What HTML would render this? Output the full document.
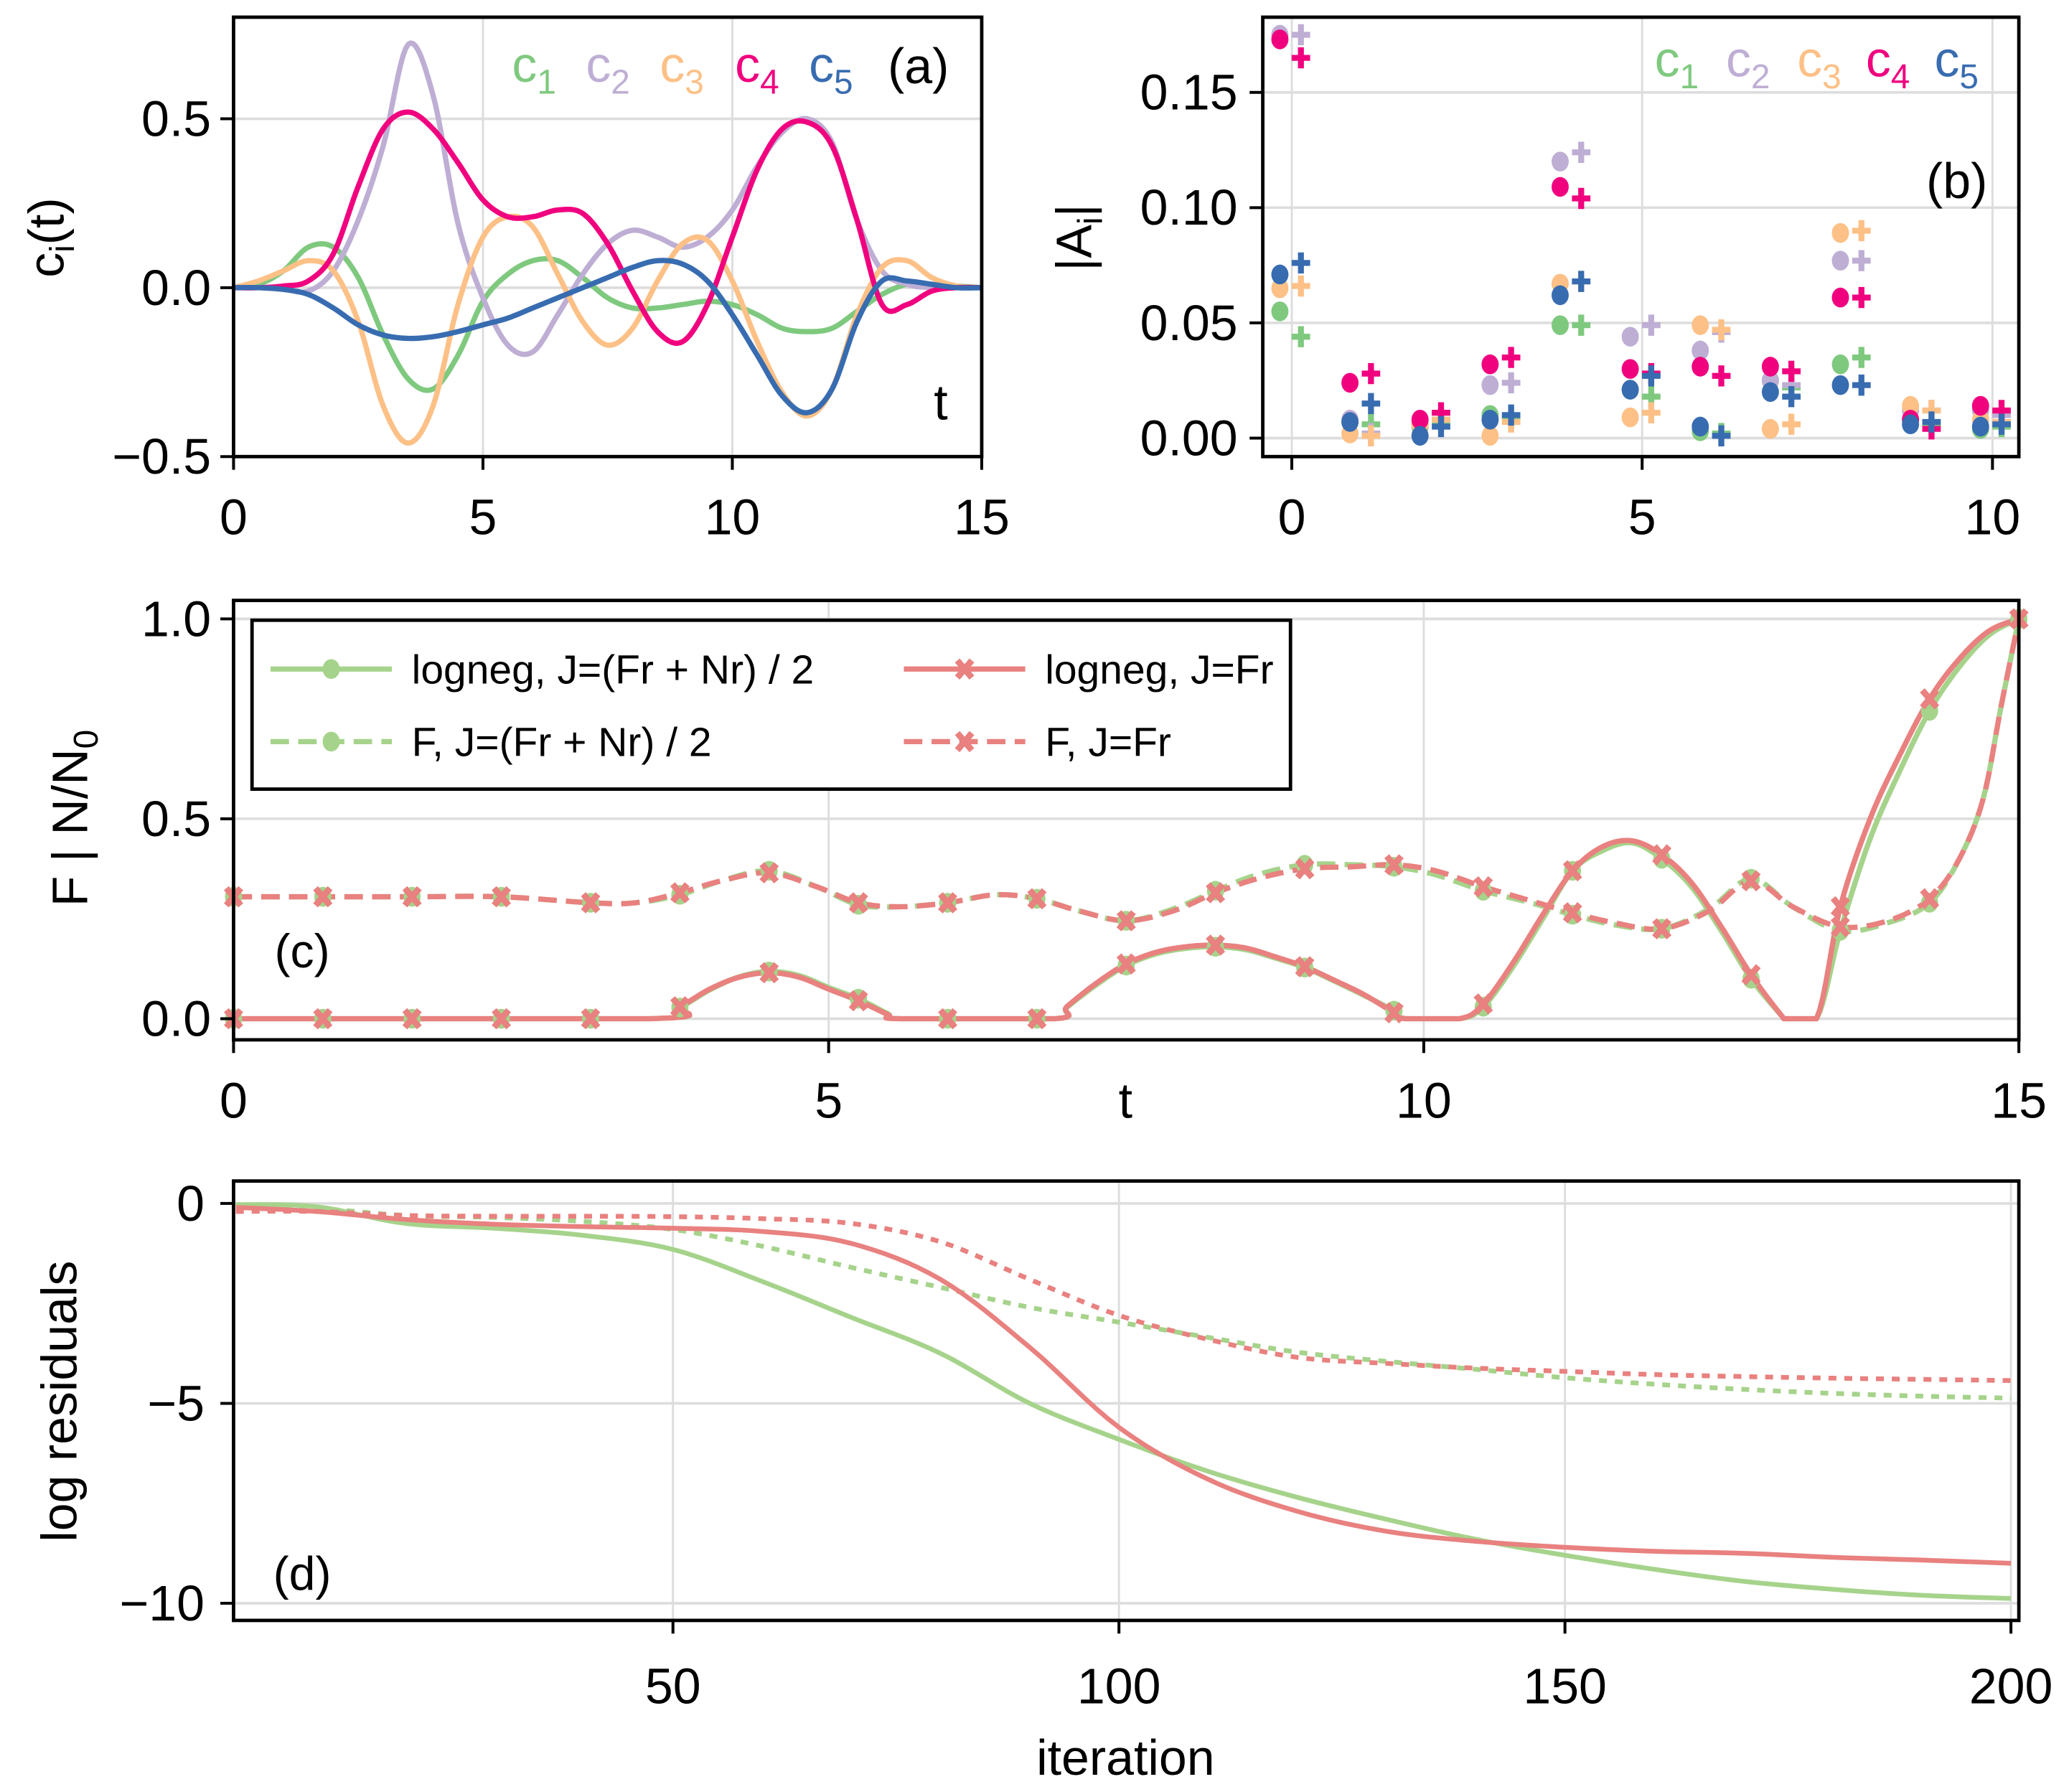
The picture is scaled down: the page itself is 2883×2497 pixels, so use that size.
<!DOCTYPE html>
<html><head><meta charset="utf-8">
<style>
html,body{margin:0;padding:0;background:#fff;}
svg{display:block;}
text{font-family:"Liberation Sans",Arial,sans-serif;}
</style></head>
<body>
<svg id="fig" xmlns="http://www.w3.org/2000/svg" width="2883" height="2497" viewBox="0 0 1568 1358">
<rect width="1568" height="1358" fill="#fff"/>
<g id="pa"></g>
<g id="pb"></g>
<g id="pc"></g>
<g id="pd"></g>
</svg>
<script>
// ---------- Panel (a) data ----------
const aT = [0,0.5,1,1.5,2,2.5,3,3.5,4,4.5,5,5.5,6,6.5,7,7.5,8,8.5,9,9.5,10,10.5,11,11.5,12,12.5,13,13.5,14,14.5,15];
const aC1 = [0,0.01,0.05,0.12,0.12,0.03,-0.14,-0.27,-0.30,-0.2,-0.04,0.04,0.08,0.08,0.03,-0.03,-0.06,-0.06,-0.05,-0.04,-0.05,-0.08,-0.12,-0.13,-0.12,-0.07,-0.02,0.01,0.01,0.005,0];
const aC2 = [0,0,-0.005,-0.01,0.05,0.2,0.42,0.72,0.57,0.19,-0.03,-0.17,-0.19,-0.08,0.04,0.13,0.17,0.15,0.12,0.15,0.23,0.36,0.46,0.50,0.43,0.2,0.05,0.01,0.0,0,0];
const aC3 = [0,0.02,0.05,0.08,0.05,-0.1,-0.35,-0.46,-0.35,-0.05,0.15,0.21,0.18,0.04,-0.1,-0.17,-0.12,0.02,0.13,0.14,0.02,-0.16,-0.31,-0.38,-0.3,-0.08,0.06,0.08,0.03,0.005,0];
const aC4 = [0,0,0.005,0.02,0.1,0.3,0.47,0.52,0.47,0.37,0.26,0.21,0.21,0.23,0.22,0.13,-0.01,-0.13,-0.16,-0.05,0.15,0.35,0.47,0.49,0.42,0.2,-0.05,-0.05,-0.01,0,0];
const aC5 = [0,0,-0.005,-0.02,-0.06,-0.11,-0.14,-0.15,-0.145,-0.13,-0.11,-0.09,-0.06,-0.03,0.0,0.03,0.06,0.08,0.07,0.02,-0.08,-0.2,-0.32,-0.37,-0.3,-0.1,0.02,0.02,0.01,0,0];
const aXTicks = [0,5,10,15];
const aYTicks = [0.5,0,-0.5];
const aYLabels = ["0.5","0.0","\u22120.5"];
// ---------- Panel (b) data ----------
const bIdx = [0,1,2,3,4,5,6,7,8,9,10];
const bC1o = [0.055,0.007,0.005,0.010,0.049,0.021,0.003,0.025,0.032,0.008,0.004];
const bC1p = [0.044,0.006,0.007,0.009,0.049,0.018,0.002,0.022,0.035,0.006,0.005];
const bC2o = [0.175,0.008,0.006,0.023,0.120,0.044,0.038,0.025,0.077,0.012,0.012];
const bC2p = [0.175,0.002,0.008,0.024,0.124,0.049,0.046,0.023,0.077,0.012,0.010];
const bC3o = [0.065,0.002,0.006,0.001,0.067,0.009,0.049,0.004,0.089,0.014,0.008];
const bC3p = [0.066,0.001,0.008,0.007,0.068,0.011,0.047,0.006,0.090,0.012,0.007];
const bC4o = [0.173,0.024,0.008,0.032,0.109,0.030,0.031,0.031,0.061,0.008,0.014];
const bC4p = [0.165,0.028,0.011,0.035,0.104,0.028,0.027,0.029,0.061,0.004,0.012];
const bC5o = [0.071,0.007,0.001,0.008,0.062,0.021,0.005,0.020,0.023,0.006,0.005];
const bC5p = [0.076,0.015,0.005,0.010,0.068,0.027,0.001,0.018,0.023,0.007,0.006];
const bXTicks = [0,5,10];
const bYTicks = [0,0.05,0.10,0.15];
const bYLabels = ["0.00","0.05","0.10","0.15"];
// ---------- Panel (c) data ----------
const cTsolR = [0,3.5,3.75,4,4.25,4.5,4.75,5,5.25,5.5,5.6,6.9,7,7.25,7.5,7.75,8,8.25,8.5,8.75,9,9.25,9.5,9.75,9.85,10.3,10.5,10.75,11,11.25,11.5,11.75,12,12.25,12.5,12.75,13,13.05,13.3,13.5,13.75,14,14.25,14.5,14.75,15];
const cLogFr = [0,0,0.03,0.074,0.104,0.115,0.104,0.074,0.045,0.01,0,0,0.03,0.089,0.137,0.166,0.18,0.184,0.177,0.155,0.13,0.096,0.06,0.015,0,0,0.037,0.14,0.26,0.37,0.43,0.445,0.41,0.34,0.23,0.11,0.01,0,0,0.28,0.5,0.66,0.80,0.90,0.97,1.0];
const cLogFN = [0,0,0.028,0.072,0.105,0.118,0.108,0.078,0.05,0.012,0,0,0.028,0.085,0.133,0.162,0.176,0.18,0.173,0.152,0.128,0.094,0.058,0.02,0,0,0.03,0.13,0.25,0.37,0.42,0.44,0.40,0.33,0.22,0.10,0.01,0,0,0.22,0.45,0.62,0.77,0.88,0.96,1.0];
const cTdash = [0,0.75,1.5,2.25,3,3.375,3.75,4.1,4.5,4.9,5.25,5.6,6,6.4,6.75,7.1,7.5,7.9,8.25,8.6,9,9.4,9.75,10.1,10.5,10.9,11.25,11.6,12,12.4,12.75,13.1,13.5,13.9,14.25,14.5,14.7,14.85,15];
const cFFr = [0.305,0.305,0.305,0.305,0.29,0.29,0.315,0.345,0.365,0.33,0.29,0.28,0.29,0.31,0.30,0.27,0.245,0.27,0.315,0.35,0.375,0.38,0.385,0.37,0.33,0.295,0.265,0.24,0.225,0.27,0.345,0.28,0.23,0.245,0.30,0.40,0.55,0.78,1.0];
const cFFN = [0.305,0.305,0.305,0.305,0.29,0.29,0.31,0.345,0.37,0.33,0.285,0.28,0.29,0.31,0.30,0.27,0.245,0.275,0.32,0.36,0.385,0.385,0.38,0.36,0.32,0.29,0.26,0.235,0.225,0.275,0.35,0.28,0.22,0.24,0.29,0.40,0.55,0.78,1.0];
const cMarkT = [0,0.75,1.5,2.25,3,3.75,4.5,5.25,6,6.75,7.5,8.25,9,9.75,10.5,11.25,12,12.75,13.5,14.25,15];
const cXTicks = [0,5,10,15];
const cYTicks = [0,0.5,1.0];
const cYLabels = ["0.0","0.5","1.0"];
// ---------- Panel (d) data ----------
const dIt = [1,10,20,30,40,50,60,70,80,90,100,110,120,130,140,150,160,170,180,190,200];
const dLogFN = [-0.03,-0.08,-0.5,-0.62,-0.8,-1.15,-1.95,-2.85,-3.75,-5.0,-5.9,-6.7,-7.35,-7.9,-8.4,-8.8,-9.15,-9.45,-9.65,-9.8,-9.88];
const dLogFr = [-0.1,-0.2,-0.4,-0.52,-0.58,-0.62,-0.7,-1.0,-1.9,-3.6,-5.6,-6.9,-7.7,-8.2,-8.45,-8.6,-8.7,-8.75,-8.85,-8.92,-9.0];
const dFFN = [-0.05,-0.12,-0.3,-0.35,-0.45,-0.65,-1.07,-1.6,-2.1,-2.6,-2.97,-3.35,-3.72,-3.95,-4.15,-4.36,-4.52,-4.65,-4.75,-4.82,-4.87];
const dFFr = [-0.2,-0.2,-0.3,-0.32,-0.32,-0.33,-0.38,-0.5,-0.96,-1.9,-2.8,-3.4,-3.85,-4.0,-4.12,-4.2,-4.28,-4.33,-4.37,-4.4,-4.43];
const dXTicks = [50,100,150,200];
const dYTicks = [0,-5,-10];
const dYLabels = ["0","\u22125","\u221210"];

const NS = "http://www.w3.org/2000/svg";
function mk(parent, tag, attrs, txt){
  const e = document.createElementNS(NS, tag);
  for (const k in attrs) e.setAttribute(k, attrs[k]);
  if (txt !== undefined) e.textContent = txt;
  parent.appendChild(e);
  return e;
}
function lin(d0,d1,r0,r1){ return v => r0 + (v-d0)*(r1-r0)/(d1-d0); }
function catmull(xs, ys, steps){
  const out = [];
  const n = xs.length;
  for (let i=0;i<n-1;i++){
    const i0=Math.max(0,i-1), i3=Math.min(n-1,i+2);
    for (let s=0;s<steps;s++){
      const u=s/steps;
      const h=(p0,p1,p2,p3)=>0.5*((2*p1)+(-p0+p2)*u+(2*p0-5*p1+4*p2-p3)*u*u+(-p0+3*p1-3*p2+p3)*u*u*u);
      out.push([h(xs[i0],xs[i],xs[i+1],xs[i3]), h(ys[i0],ys[i],ys[i+1],ys[i3])]);
    }
  }
  out.push([xs[n-1], ys[n-1]]);
  return out;
}
function interp(xs, ys, t){
  if (t<=xs[0]) return ys[0];
  for (let i=0;i<xs.length-1;i++){
    if (t<=xs[i+1]) return ys[i]+(ys[i+1]-ys[i])*(t-xs[i])/(xs[i+1]-xs[i]);
  }
  return ys[ys.length-1];
}
function ptsStr(pts, sx, sy){ return pts.map(p=>sx(p[0]).toFixed(2)+","+sy(p[1]).toFixed(2)).join(" "); }
function frame(g, x0,y0,x1,y1){
  const r = mk(g,"rect",{x:x0,y:y0,width:x1-x0,height:y1-y0,fill:"none",stroke:"#000","stroke-width":2.6});
  
  
}
function gridX(g, xs, sx, y0, y1){
  xs.forEach(v=>{ const l=mk(g,"line",{x1:sx(v),x2:sx(v),y1:y0,y2:y1,stroke:"#dddddd","stroke-width":1.6});
      });
}
function gridY(g, ys, sy, x0, x1){
  ys.forEach(v=>{ const l=mk(g,"line",{x1:x0,x2:x1,y1:sy(v),y2:sy(v),stroke:"#dddddd","stroke-width":2});
      });
}
function xTicks(g, vals, labels, sx, yb, ty){
  vals.forEach((v,i)=>{
    const l=mk(g,"line",{x1:sx(v),x2:sx(v),y1:yb,y2:yb+10,stroke:"#000","stroke-width":2.2});
     
    const t=mk(g,"text",{x:sx(v),y:ty,"font-size":38,"text-anchor":"middle",fill:"#000"},labels[i]);
     
  });
}
function yTicks(g, vals, labels, sy, xl, tx){
  vals.forEach((v,i)=>{
    const l=mk(g,"line",{x1:xl-10,x2:xl,y1:sy(v),y2:sy(v),stroke:"#000","stroke-width":2.2});
     
    const t=mk(g,"text",{x:tx,y:sy(v)+13,"font-size":38,"text-anchor":"end",fill:"#000"},labels[i]);
     
  });
}
function label(g, x, y, s, name, size, rot){
  const a={x:x,y:y,"font-size":size||38,"text-anchor":"middle",fill:"#000"};
  if (rot) a.transform="rotate(-90 "+x+" "+y+")";
  const t=mk(g,"text",a);
  t.innerHTML=s;
  
  
  return t;
}
const COLS = ["#7fc97f","#beaed4","#fdc086","#f0027f","#386cb0"];

// ---------- Panel (a) ----------
(function(){
  const g=document.getElementById("pa");
  const X0=177,X1=744,Y0=13,Y1=346;
  const sx=lin(0,15,X0,X1), sy=lin(0,0.5,218,90);
  gridX(g,[5,10],sx,Y0,Y1); gridY(g,[0.5,0],sy,X0,X1);
  const series=[aC1,aC2,aC3,aC4,aC5];
  series.forEach((s,k)=>{
    const p=mk(g,"polyline",{points:ptsStr(catmull(aT,s,10),sx,sy),fill:"none",stroke:COLS[k],"stroke-width":4,"stroke-linejoin":"round"});
     
  });
  frame(g,X0,Y0,X1,Y1);
  xTicks(g,aXTicks,aXTicks.map(String),sx,Y1,405);
  yTicks(g,aYTicks,aYLabels,sy,X0,160);
  const lx=[388,444,500,557,613];
  lx.forEach((x,k)=>{
    const t=mk(g,"text",{x:x,y:62,"font-size":38,style:"fill:"+COLS[k]});
    t.innerHTML='c<tspan font-size="26" dy="9">'+(k+1)+'</tspan>';
     
  });
  label(g,696,63,"(a)","panel-label-a",38);
  label(g,713,318,"t","x-axis-title-a",38);
  label(g,48,180,'c<tspan font-size="26" dy="8">i</tspan><tspan dy="-8">(t)</tspan>',"y-axis-title-a",38,true);
})();

// ---------- Panel (b) ----------
(function(){
  const g=document.getElementById("pb");
  const X0=957,X1=1530,Y0=13,Y1=346;
  const sx=lin(0,10,979,1510), sy=lin(0,0.15,332,70);
  gridX(g,[0,5,10],sx,Y0,Y1); gridY(g,bYTicks,sy,X0,X1);
  const circ=[bC1o,bC2o,bC3o,bC4o,bC5o], plus=[bC1p,bC2p,bC3p,bC4p,bC5p];
  for (let k=0;k<5;k++){
    bIdx.forEach((i,j)=>{
      const c=mk(g,"ellipse",{cx:sx(i-0.17),cy:sy(circ[k][j]),rx:6.5,ry:7.5,fill:COLS[k]});
       
      const px=sx(i+0.13), py=sy(plus[k][j]);
      const p=mk(g,"path",{d:`M${px-7},${py}H${px+7}M${px},${py-8}V${py+8}`,stroke:COLS[k],"stroke-width":4.5,fill:"none"});
       
    });
  }
  frame(g,X0,Y0,X1,Y1);
  xTicks(g,bXTicks,bXTicks.map(String),sx,Y1,405);
  yTicks(g,bYTicks,bYLabels,sy,X0,938);
  const lx=[1254,1308,1362,1414,1466];
  lx.forEach((x,k)=>{
    const t=mk(g,"text",{x:x,y:58,"font-size":38,style:"fill:"+COLS[k]});
    t.innerHTML='c<tspan font-size="26" dy="9">'+(k+1)+'</tspan>';
     
  });
  label(g,1483,150,"(b)","panel-label-b",38);
  label(g,827,180,'|A<tspan font-size="26" dy="8">i</tspan><tspan dy="-8">|</tspan>',"y-axis-title-b",38,true);
})();

// ---------- Panel (c) ----------
const GR="#a6d38b", RD="#e8817f";
function xMark(g,x,y,col){
  const p=mk(g,"path",{d:`M${x-5.5},${y-6.5}L${x+5.5},${y+6.5}M${x-5.5},${y+6.5}L${x+5.5},${y-6.5}`,stroke:col,"stroke-width":4.8,fill:"none"});
   
}
function oMark(g,x,y,col){
  const c=mk(g,"ellipse",{cx:x,cy:y,rx:6.5,ry:7.5,fill:col});
   
}
(function(){
  const g=document.getElementById("pc");
  const X0=177,X1=1530,Y0=455,Y1=788;
  const sx=lin(0,15,X0,X1), sy=lin(0,1,772,469);
  gridX(g,[5,10],sx,Y0,Y1); gridY(g,cYTicks,sy,X0,X1);
  const curves=[
    [cTsolR,cLogFN,GR,null,'line-logneg-fr-nr'],
    [cTdash,cFFN,GR,"14 7",'line-f-fr-nr'],
    [cTsolR,cLogFr,RD,null,'line-logneg-fr'],
    [cTdash,cFFr,RD,"14 7",'line-f-fr']
  ];
  curves.forEach(c=>{
    let pts = catmull(c[0],c[1],8).map(p=>[p[0],Math.max(0,Math.min(1.0,p[1]))]);
    const a={points:ptsStr(pts,sx,sy),fill:"none",stroke:c[2],"stroke-width":4,"stroke-linejoin":"round"};
    if (c[3]) a["stroke-dasharray"]=c[3];
    const p=mk(g,"polyline",a);
     
  });
  cMarkT.forEach(t=>{
    oMark(g,sx(t),sy(interp(cTsolR,cLogFN,t)),GR);
    oMark(g,sx(t),sy(interp(cTdash,cFFN,t)),GR);
  });
  cMarkT.forEach(t=>{
    xMark(g,sx(t),sy(interp(cTsolR,cLogFr,t)),RD);
    xMark(g,sx(t),sy(interp(cTdash,cFFr,t)),RD);
  });
  frame(g,X0,Y0,X1,Y1);
  xTicks(g,cXTicks,cXTicks.map(String),sx,Y1,847);
  yTicks(g,cYTicks,cYLabels,sy,X0,160);
  const lg=mk(g,"g",{});
   
  const box=mk(lg,"rect",{x:191,y:470,width:787,height:128,fill:"#fff",stroke:"#000","stroke-width":2.6});
   
  const ents=[[205,507,GR,null,"logneg, J=(Fr + Nr) / 2",'o'],[205,562,GR,"14 7","F, J=(Fr + Nr) / 2",'o'],
              [685,507,RD,null,"logneg, J=Fr",'x'],[685,562,RD,"14 7","F, J=Fr",'x']];
  ents.forEach(e=>{
    const a={x1:e[0],x2:e[0]+92,y1:e[1],y2:e[1],stroke:e[2],"stroke-width":4};
    if (e[3]) a["stroke-dasharray"]=e[3];
    const l=mk(lg,"line",a);  
    if (e[5]==='o') oMark(lg,e[0]+46,e[1],e[2]); else xMark(lg,e[0]+46,e[1],e[2]);
    const t=mk(lg,"text",{x:e[0]+107,y:e[1]+11,"font-size":31,fill:"#000"},e[4]);
     
  });
  label(g,229,733,"(c)","panel-label-c",36);
  label(g,853,847,"t","x-axis-title-c",38);
  label(g,66,620,'F | N/N<tspan font-size="26" dy="8">0</tspan>',"y-axis-title-c",38,true);
})();

// ---------- Panel (d) ----------
(function(){
  const g=document.getElementById("pd");
  const X0=177,X1=1530,Y0=895,Y1=1228;
  const sx=lin(50,200,510,1524), sy=lin(0,-10,912,1215);
  gridX(g,dXTicks,sx,Y0,Y1); gridY(g,dYTicks,sy,X0,X1);
  const curves=[[dLogFN,GR,null,'line-logneg-fr-nr'],[dFFN,GR,"6 6",'line-f-fr-nr'],[dLogFr,RD,null,'line-logneg-fr'],[dFFr,RD,"6 6",'line-f-fr']];
  const cp=mk(g,"clipPath",{id:"clipd"}); mk(cp,"rect",{x:X0,y:Y0,width:X1-X0,height:Y1-Y0});
  curves.forEach(c=>{
    const a={points:ptsStr(catmull(dIt,c[0],8),sx,sy),fill:"none",stroke:c[1],"stroke-width":3.6,"clip-path":"url(#clipd)"};
    if (c[2]) a["stroke-dasharray"]=c[2];
    const p=mk(g,"polyline",a);
     
  });
  frame(g,X0,Y0,X1,Y1);
  xTicks(g,dXTicks,dXTicks.map(String),sx,Y1,1291);
  yTicks(g,dYTicks,dYLabels,sy,X0,155);
  label(g,229,1205,"(d)","panel-label-d",36);
  label(g,853,1345,"iteration","x-axis-title-d",38);
  label(g,58,1062,"log residuals","y-axis-title-d",38,true);
})();
</script>
</body></html>
